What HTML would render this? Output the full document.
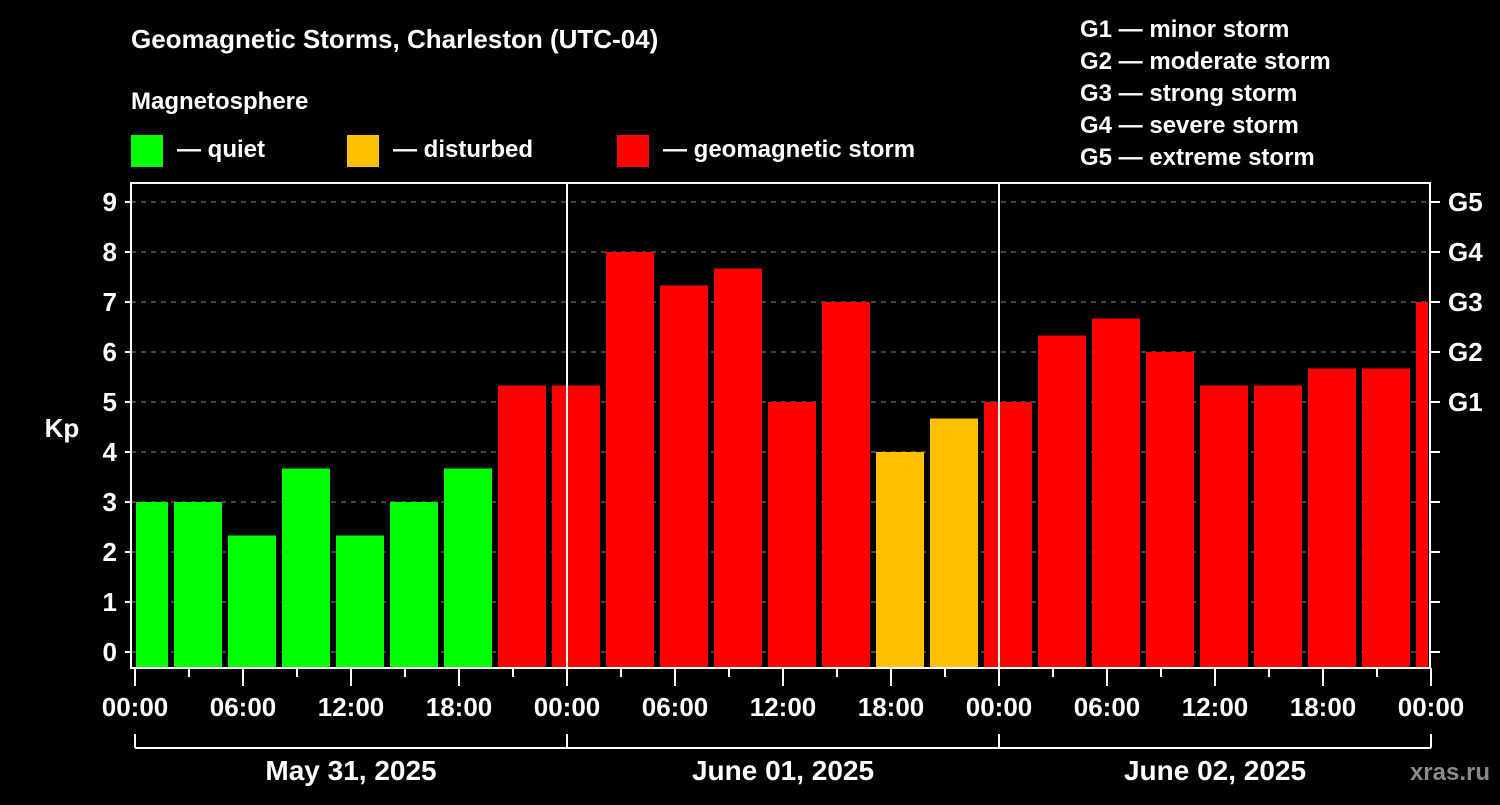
<!DOCTYPE html>
<html><head><meta charset="utf-8"><style>
body{margin:0;background:#000;width:1500px;height:800px;overflow:hidden}
svg text{font-family:"Liberation Sans",Arial,sans-serif;font-weight:bold;fill:#fff}
</style></head><body>
<svg id="chart" width="1500" height="800" xmlns="http://www.w3.org/2000/svg">
<rect width="1500" height="800" fill="#000"/>
<text x="131" y="48" font-size="26">Geomagnetic Storms, Charleston (UTC-04)</text>
<text x="131" y="109" font-size="24">Magnetosphere</text>
<g><rect x="131" y="135" width="32" height="32" fill="#00ff00"/><text x="177" y="157" font-size="24">— quiet</text></g>
<g><rect x="347" y="135" width="32" height="32" fill="#ffc000"/><text x="393" y="157" font-size="24">— disturbed</text></g>
<g><rect x="617" y="135" width="32" height="32" fill="#ff0000"/><text x="663" y="157" font-size="24">— geomagnetic storm</text></g>
<g font-size="24">
<text x="1080" y="37">G1 — minor storm</text>
<text x="1080" y="69">G2 — moderate storm</text>
<text x="1080" y="101">G3 — strong storm</text>
<text x="1080" y="133">G4 — severe storm</text>
<text x="1080" y="165">G5 — extreme storm</text>
</g>
<text x="62" y="437" font-size="26" text-anchor="middle">Kp</text>
<g id="grid"></g><g id="bars"></g><g id="axes"></g>
<text x="1490" y="780" font-size="24" text-anchor="end" fill="#888" style="fill:#8a8a8a">xras.ru</text>
</svg>
<script>
const kpValues=[3,3,2.33,3.67,2.33,3,3.67,5.33,5.33,8,7.33,7.67,5,7,4,4.67,5,6.33,6.67,6,5.33,5.33,5.67,5.67,7];
const yTicks=[0,1,2,3,4,5,6,7,8,9];
const gLabels=["","","","","","G1","G2","G3","G4","G5"];
const timeLabels=["00:00","06:00","12:00","18:00"];
const dayLabels=["May 31, 2025","June 01, 2025","June 02, 2025"];
const NS="http://www.w3.org/2000/svg";
const L=131,R=1430,T=183,B=668,X0=135,DAY=432;
const y=v=>652-50*v;
const x=h=>X0+h*DAY/24;
function mk(tag,attrs,parent){const e=document.createElementNS(NS,tag);for(const k in attrs)e.setAttribute(k,attrs[k]);parent.appendChild(e);return e;}
const grid=document.getElementById('grid'),bars=document.getElementById('bars'),axes=document.getElementById('axes');
yTicks.forEach(v=>{
 const l=mk('line',{x1:L,x2:R,y1:y(v),y2:y(v),stroke:'#888','stroke-dasharray':'5,5','stroke-width':1},grid);
 
 
});
kpValues.forEach((v,i)=>{
 const c=x(i*3);let x1=Math.max(c-15,L+5),x2=Math.min(c+33,R-2);
 const col=v<4?'#00ff00':(v<5?'#ffc000':'#ff0000');
 const r=mk('rect',{x:x1,y:y(v),width:x2-x1,height:B-1-y(v),fill:col},bars);
 
 
});
[1,2].forEach(d=>{const l=mk('line',{x1:x(d*24),x2:x(d*24),y1:T,y2:B,stroke:'#fff','stroke-width':2},axes);
 
 });
const f=mk('rect',{x:L,y:T,width:R-L,height:B-T,fill:'none',stroke:'#fff','stroke-width':2},axes);


yTicks.forEach((v,i)=>{
 mk('line',{x1:L-6,x2:L,y1:y(v),y2:y(v),stroke:'#fff','stroke-width':2},axes);
 mk('line',{x1:R,x2:R+10,y1:y(v),y2:y(v),stroke:'#fff','stroke-width':2},axes);
 const t=mk('text',{x:117,y:y(v)+9,'font-size':26,'text-anchor':'end'},axes);t.textContent=v;
 
 
 if(gLabels[i]){const g=mk('text',{x:1448,y:y(v)+9,'font-size':26},axes);g.textContent=gLabels[i];
 
 }
});
for(let h=0;h<=72;h+=3){
 mk('line',{x1:x(h),x2:x(h),y1:B,y2:h%6?677:686,stroke:'#fff','stroke-width':2},axes);
 if(h%6===0){const t=mk('text',{x:x(h),y:716,'font-size':26,'text-anchor':'middle'},axes);t.textContent=timeLabels[(h/6)%4];
 
 }
}
mk('line',{x1:x(0),x2:x(72),y1:748,y2:748,stroke:'#fff','stroke-width':2},axes);
for(let d=0;d<=3;d++)mk('line',{x1:x(d*24),x2:x(d*24),y1:734,y2:748,stroke:'#fff','stroke-width':2},axes);
dayLabels.forEach((s,d)=>{const t=mk('text',{x:x(d*24+12),y:780,'font-size':28,'text-anchor':'middle'},axes);t.textContent=s;
 
 });
</script>
</body></html>
